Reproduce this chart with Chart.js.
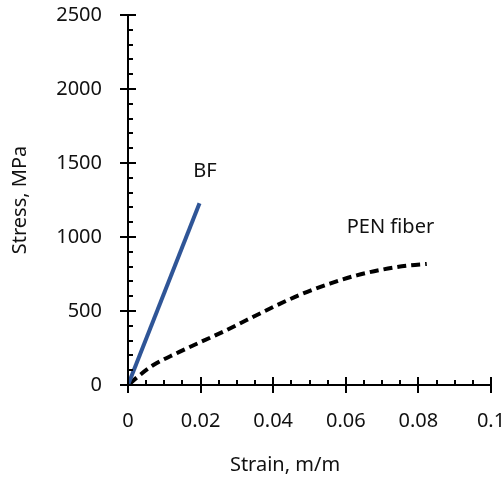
<!DOCTYPE html>
<html>
<head>
<meta charset="utf-8">
<script src="https://cdn.jsdelivr.net/npm/chart.js@4/dist/chart.umd.min.js"></script>
<style>
  body { margin: 0; background: #fff; }
</style>
</head>
<body>
<canvas id="chart" width="504" height="479"></canvas>
<script>
// stress-strain data
const bfStrain = [0, 0.0197];
const bfStress = [0, 1228];
const penStrain = [0.0005, 0.0033, 0.007, 0.0134, 0.0198, 0.0263, 0.0327, 0.040, 0.0474, 0.0556, 0.063, 0.0703, 0.0768, 0.0823];
const penStress = [10, 68, 135, 215, 288, 361, 439, 527, 610, 685, 741, 781, 806, 818];

const seriesLabels = ['BF', 'PEN fiber'];
const labelPos = [[0.0212, 1446], [0.0723, 1068]];
const xTitle = 'Strain, m/m';
const yTitle = 'Stress, MPa';

const FONT = '"Noto Sans", "DejaVu Sans", sans-serif';
const TEXT = '#111';

function toPoints(xs, ys) {
  return xs.map((x, i) => ({ x: x, y: ys[i] }));
}

// inner tick marks (major + minor), curve labels and axis titles
const extras = {
  id: 'extras',
  afterDraw(chart) {
    const ctx = chart.ctx;
    const xs = chart.scales.x, ys = chart.scales.y;
    const area = chart.chartArea;
    ctx.save();
    ctx.strokeStyle = '#000';
    ctx.lineWidth = 2;
    ctx.beginPath();
    for (let v = 0; v <= 0.1 + 1e-9; v += 0.005) {
      const px = Math.round(xs.getPixelForValue(v));
      const major = Math.abs(v / 0.02 - Math.round(v / 0.02)) < 1e-6;
      ctx.moveTo(px, area.bottom);
      ctx.lineTo(px, area.bottom - (major ? 8 : 5));
    }
    for (let v = 0; v <= 2500; v += 100) {
      const py = Math.round(ys.getPixelForValue(v));
      const major = v % 500 === 0;
      ctx.moveTo(area.left, py);
      ctx.lineTo(area.left + (major ? 8 : 5), py);
    }
    ctx.stroke();

    ctx.fillStyle = TEXT;
    ctx.font = '20px ' + FONT;
    ctx.textAlign = 'center';
    ctx.textBaseline = 'middle';
    seriesLabels.forEach((t, i) => {
      ctx.fillText(t, xs.getPixelForValue(labelPos[i][0]), ys.getPixelForValue(labelPos[i][1]));
    });

    ctx.fillText(xTitle, 285, 465);
    ctx.translate(20, (area.top + area.bottom) / 2);
    ctx.rotate(-Math.PI / 2);
    ctx.fillText(yTitle, 0, 0);
    ctx.restore();
  }
};

new Chart(document.getElementById('chart'), {
  type: 'scatter',
  data: {
    datasets: [
      {
        label: seriesLabels[0],
        data: toPoints(bfStrain, bfStress),
        showLine: true,
        borderColor: '#2F5597',
        borderWidth: 4,
        pointRadius: 0
      },
      {
        label: seriesLabels[1],
        data: toPoints(penStrain, penStress),
        showLine: true,
        borderColor: '#000',
        borderWidth: 4,
        borderDash: [9, 5],
        cubicInterpolationMode: 'monotone',
        pointRadius: 0
      }
    ]
  },
  options: {
    responsive: false,
    animation: false,
    layout: { padding: { left: 0, right: 13, top: 15, bottom: 0 } },
    plugins: { legend: { display: false }, tooltip: { enabled: false } },
    scales: {
      x: {
        type: 'linear',
        min: 0,
        max: 0.1,
        afterFit(scale) {
          scale.height = 94;
          scale.paddingLeft = 0;
          scale.paddingRight = 0;
        },
        border: { color: '#000', width: 2 },
        grid: { drawOnChartArea: false, drawTicks: true, tickLength: 8, color: '#000', lineWidth: 2 },
        ticks: {
          stepSize: 0.02,
          padding: 16,
          color: TEXT,
          font: { family: FONT, size: 20 },
          maxRotation: 0,
          callback: v => String(Math.round(v * 100) / 100)
        }
      },
      y: {
        min: 0,
        max: 2500,
        afterFit(scale) {
          scale.width = 128;
          scale.paddingTop = 0;
          scale.paddingBottom = 0;
        },
        border: { color: '#000', width: 2 },
        grid: { drawOnChartArea: false, drawTicks: true, tickLength: 8, color: '#000', lineWidth: 2 },
        ticks: {
          stepSize: 500,
          padding: 18,
          color: TEXT,
          font: { family: FONT, size: 20 },
          callback: v => String(v)
        }
      }
    }
  },
  plugins: [extras]
});
</script>
</body>
</html>
